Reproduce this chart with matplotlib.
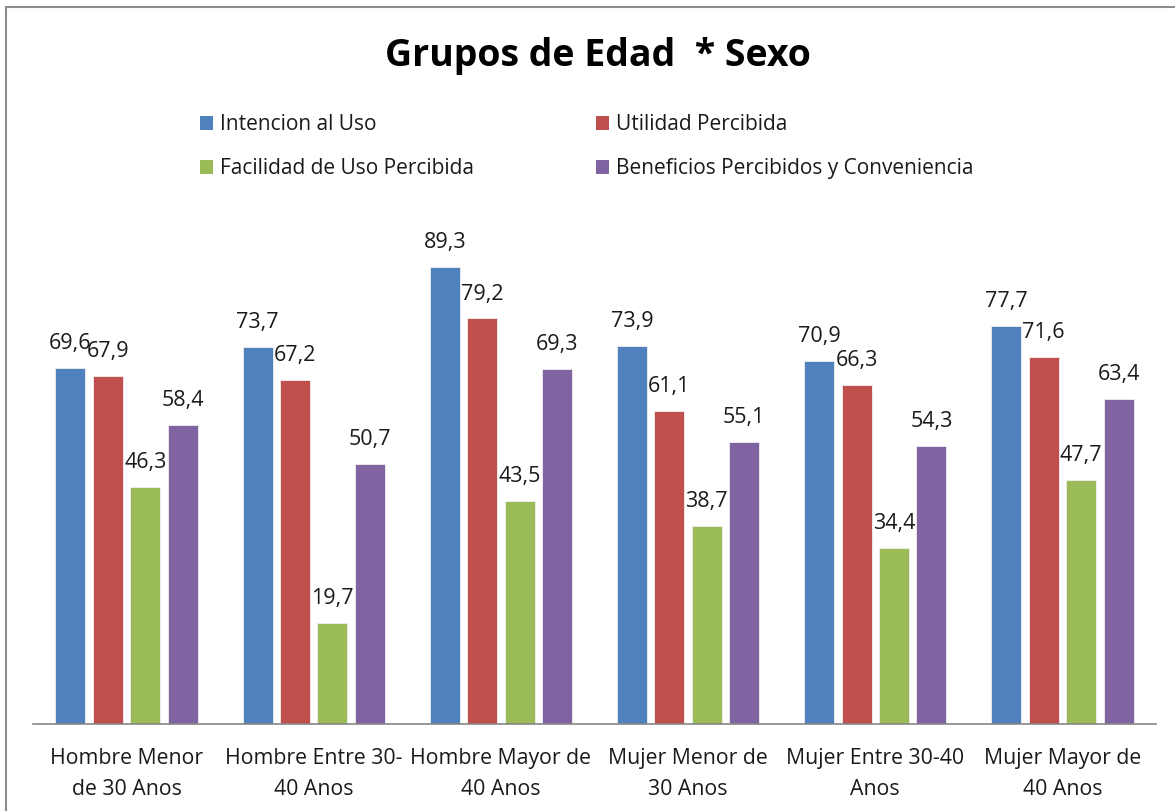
import matplotlib
matplotlib.use("Agg")
import matplotlib.pyplot as plt
from matplotlib.patches import Rectangle, Patch
import numpy as np

categories = ["Hombre Menor\nde 30 Anos", "Hombre Entre 30-\n40 Anos", "Hombre Mayor de\n40 Anos",
              "Mujer Menor de\n30 Anos", "Mujer Entre 30-40\nAnos", "Mujer Mayor de\n40 Anos"]
series_names = ["Intencion al Uso", "Utilidad Percibida", "Facilidad de Uso Percibida",
                "Beneficios Percibidos y Conveniencia"]
intencion = [69.6, 73.7, 89.3, 73.9, 70.9, 77.7]
utilidad = [67.9, 67.2, 79.2, 61.1, 66.3, 71.6]
facilidad = [46.3, 19.7, 43.5, 38.7, 34.4, 47.7]
beneficios = [58.4, 50.7, 69.3, 55.1, 54.3, 63.4]
colors = ["#4F81BD", "#C0504D", "#9BBB59", "#8064A2"]

plt.rcParams['font.family'] = ['Open Sans', 'DejaVu Sans']

W, H = 1175, 811
fig = plt.figure(figsize=(W / 100, H / 100), dpi=100)
fig.patch.set_facecolor("white")

# outer chart border (top & left visible)
fig.patches.append(Rectangle((6 / W, -0.05), 1.2, 1 - 7 / H + 0.05, transform=fig.transFigure,
                             fill=False, edgecolor="#8c8c8c", linewidth=1.5))

left, right = 33 / W, 1156 / W
bottom, top = 1 - 724 / H, 1 - 212 / H
ax = fig.add_axes([left, bottom, right - left, top - bottom])

x = np.arange(len(categories))
data = [intencion, utilidad, facilidad, beneficios]
bw = 0.16
handles = []
for i, (vals, c, name) in enumerate(zip(data, colors, series_names)):
    pos = x + 0.2 * (i - 1.5)
    ax.bar(pos, vals, width=bw, color=c, edgecolor="#f0f0f0", linewidth=0.6, zorder=2)
    for p, v in zip(pos, vals):
        ax.text(p, v + 3.7, f"{v:.1f}".replace(".", ","), ha="center", va="baseline",
                fontsize=15.5, color="#1a1a1a")
    handles.append(Patch(facecolor=c, edgecolor="none"))

ax.set_xlim(-0.5, len(categories) - 0.5)
ax.set_ylim(0, 100)
ax.set_yticks([])
ax.set_xticks(x)
ax.set_xticklabels(categories, fontsize=15.3, color="#1a1a1a", linespacing=1.65)
ax.tick_params(axis="x", length=0, pad=17)
for s in ["top", "right", "left"]:
    ax.spines[s].set_visible(False)
ax.spines["bottom"].set_color("#868686")
ax.spines["bottom"].set_linewidth(1.2)
ax.set_facecolor("none")

fig.text(598 / W, 1 - 56 / H, "Grupos de Edad  * Sexo", ha="center", va="center",
         fontsize=27, fontweight="bold", color="black")

order = [0, 2, 1, 3]
leg = fig.legend([handles[k] for k in order], [series_names[k] for k in order],
                 ncol=2, loc="upper left", bbox_to_anchor=(192 / W, 1 - 106 / H),
                 frameon=False, fontsize=15, handlelength=0.62, handleheight=0.62,
                 handletextpad=0.3, labelspacing=1.1, columnspacing=5.9,
                 borderaxespad=0, borderpad=0.4)
for t in leg.get_texts():
    t.set_color("#1a1a1a")

fig.savefig("out.png", dpi=100, facecolor="white")
